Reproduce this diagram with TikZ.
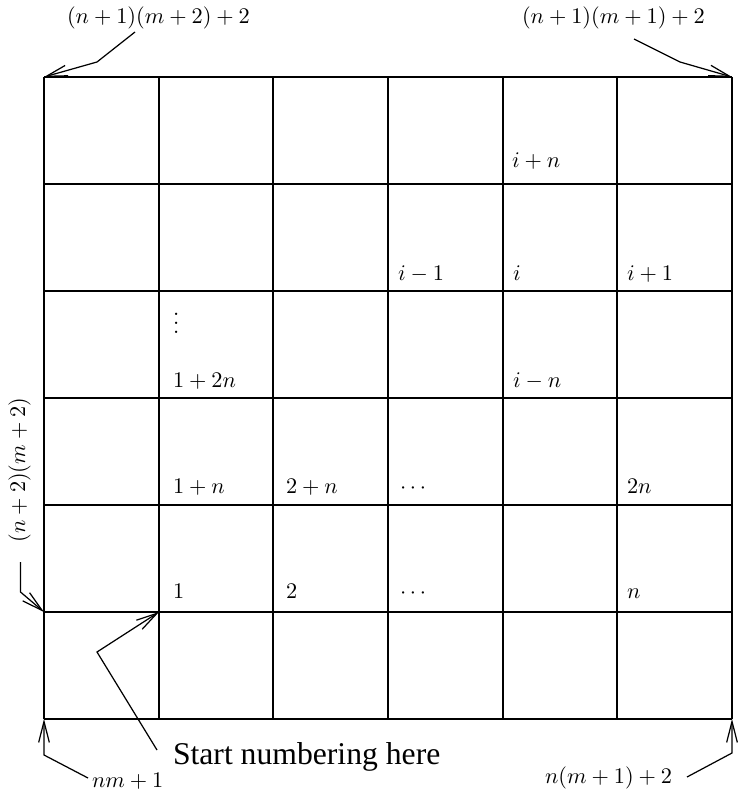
\documentclass[tikz,border=0pt]{standalone}
\usepackage{fontspec}
\newfontfamily\timesfont{Liberation Serif}
\usetikzlibrary{arrows.meta}
\begin{document}
\begin{tikzpicture}[x=0.4484pt,y=-0.4484pt,
  gridline/.style={line width=0.55pt},
  conn/.style={line width=0.55pt,-{Straight Barb[length=9.4pt,width=4.8pt,line width=0.55pt]}},
  lbl/.style={anchor=base west,inner sep=0pt,outer sep=0pt},
  rlbl/.style={anchor=base,inner sep=0pt,outer sep=0pt,rotate=90},
  bigtext/.style={anchor=base west,inner sep=0pt,outer sep=0pt,font=\timesfont\fontsize{14.2}{17}\selectfont},
]
\useasboundingbox (0,0) rectangle (738,792);
% grid
\foreach \x in {44,159,273,388,503,617,732}
  \draw[gridline] (\x,77) -- (\x,719);
\foreach \y in {77,184,291,398,505,612,719}
  \draw[gridline] (44,\y) -- (732,\y);
% cell labels
\node[lbl] (ipn) at (512,168) {$i+n$};
\node[lbl] (im1) at (398,280) {$i-1$};
\node[lbl] (i) at (513,280) {$i$};
\node[lbl] (ip1) at (627,280) {$i+1$};
\node[lbl] (vd) at (173,333) {$\vdots$};
\node[lbl] (op2n) at (173,387) {$1+2n$};
\node[lbl] (imn) at (513,387) {$i-n$};
\node[lbl] (opn) at (173,493) {$1+n$};
\node[lbl] (tpn) at (286,493) {$2+n$};
\node[lbl] (cd1) at (400,493) {$\cdots$};
\node[lbl] (twon) at (627,493) {$2n$};
\node[lbl] (one) at (173,598) {$1$};
\node[lbl] (two) at (286,598) {$2$};
\node[lbl] (cd2) at (400,598) {$\cdots$};
\node[lbl] (nn) at (627,598) {$n$};
% outer labels
\node[lbl] (ltl) at (67,24) {$(n+1)(m+2)+2$};
\node[lbl] (ltr) at (522,24) {$(n+1)(m+1)+2$};
\node[rlbl] (ll) at (25,470) {$(n+2)(m+2)$};
\node[lbl] (lbl1) at (92,787) {$nm+1$};
\node[lbl] (lbr) at (545,783) {$n(m+1)+2$};
\node[bigtext] (start) at (173,764) {Start numbering here};
% corner coordinates
\coordinate (cTL) at (44,77);
\coordinate (cTR) at (732,77);
\coordinate (cBL) at (44,719);
\coordinate (cBR) at (732,719);
\coordinate (cL) at (44,612);
\coordinate (cS) at (159,612);
% connectors
\coordinate (a1) at (135,32); \coordinate (b1) at (97,62);
\draw[conn] (a1) -- (b1) -- (cTL);
\coordinate (a2) at (634,39); \coordinate (b2) at (680,62);
\draw[conn] (a2) -- (b2) -- (cTR);
\coordinate (a3) at (20.5,562); \coordinate (b3) at (20.5,592);
\draw[conn] (a3) -- (b3) -- (cL);
\coordinate (a4) at (157,750); \coordinate (b4) at (97,652);
\draw[conn] (a4) -- (b4) -- (cS);
\coordinate (a5) at (88,778); \coordinate (b5) at (44,755);
\draw[conn] (a5) -- (b5) -- (cBL);
\coordinate (a6) at (687,777); \coordinate (b6) at (732,753);
\draw[conn] (a6) -- (b6) -- (cBR);
\end{tikzpicture}
\end{document}
